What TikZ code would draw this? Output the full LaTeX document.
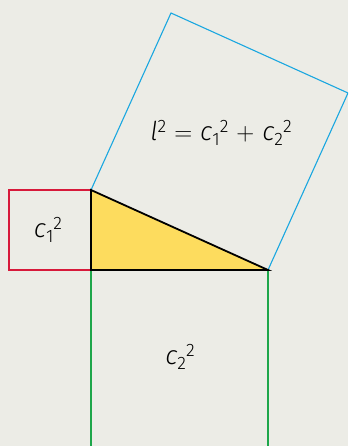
\documentclass[tikz,border=0pt]{standalone}
\usepackage{fontspec}
\setmainfont{Fira Sans}[UprightFont=* Light, ItalicFont=* Light Italic]
\definecolor{bg}{HTML}{ECECE6}
\definecolor{sqred}{HTML}{D7193A}
\definecolor{sqblue}{HTML}{1AA7E0}
\definecolor{sqgreen}{HTML}{1DA64A}
\definecolor{triyel}{HTML}{FDDC5E}
\newcommand{\supsz}{\fontsize{18}{18}\selectfont}
\newcommand{\vv}[3]{\textit{#1}\raisebox{-5pt}{\supsz #2}\raisebox{8.5pt}{\supsz #3}}
\begin{document}
\begin{tikzpicture}[x=1pt,y=-1pt,
  sq/.style={line width=1.1pt},
  lbl/.style={font=\fontsize{26}{26}\selectfont, inner sep=0pt}]
\fill[bg] (0,0) rectangle (348,446);
\useasboundingbox (0,0) rectangle (348,446);
\begin{scope}
\clip (0,0) rectangle (348,446);
\coordinate (A) at (91,190);
\coordinate (B) at (91,270);
\coordinate (C) at (268,270);
\coordinate (R1) at (9,190);
\coordinate (R2) at (9,270);
\coordinate (G1) at (91,460);
\coordinate (G2) at (268,460);
\coordinate (U1) at (171,13);
\coordinate (U2) at (348,93);
\draw[sq, sqred] (A) -- (R1) -- (R2) -- (B);
\draw[sq, sqgreen] (B) -- (G1) (C) -- (G2);
\draw[sq, sqblue] (A) -- (U1) -- (U2) -- (C);
\draw[fill=triyel, line width=1.8pt, line join=miter] (A) -- (B) -- (C) -- cycle;
\end{scope}
\node[lbl] (t1) at (221,133) {\textit{l}\raisebox{8.5pt}{\supsz 2}\hspace{8pt}$=$\hspace{8pt}\vv{c}{1}{2}\hspace{8pt}$+$\hspace{8pt}\vv{c}{2}{2}};
\node[lbl] (t2) at (48,230) {\vv{c}{1}{2}};
\node[lbl] (t3) at (180,357) {\vv{c}{2}{2}};
\end{tikzpicture}
\end{document}
